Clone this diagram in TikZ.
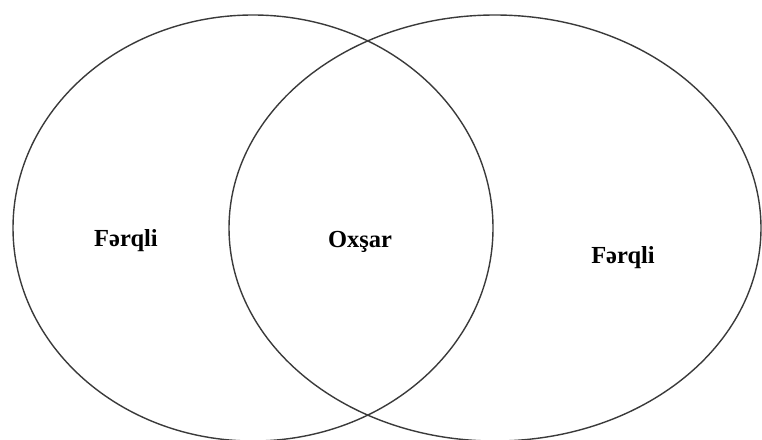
\documentclass[tikz,border=0pt]{standalone}
\usepackage{fontspec}
\setmainfont{Liberation Serif}
\usetikzlibrary{shapes.geometric}
\definecolor{linegray}{HTML}{3A3A3A}
\tikzset{
  setshape/.style={ellipse, draw=linegray, line width=1.4pt, inner sep=0pt},
  lbl/.style={anchor=base, font=\fontsize{24.5}{28}\selectfont\bfseries, text=black}
}
\begin{document}
\begin{tikzpicture}[x=1pt,y=-1pt]
\useasboundingbox (0,0) rectangle (762,439);
\node[setshape, minimum width=480pt, minimum height=426pt] (L) at (253,228) {};
\node[setshape, minimum width=532pt, minimum height=426pt] (R) at (495,228) {};
\node[lbl] (fl) at (126,246) {Fərqli};
\node[lbl] (ox) at (360,247) {Oxşar};
\node[lbl] (fr) at (623,263) {Fərqli};
\end{tikzpicture}
\end{document}
